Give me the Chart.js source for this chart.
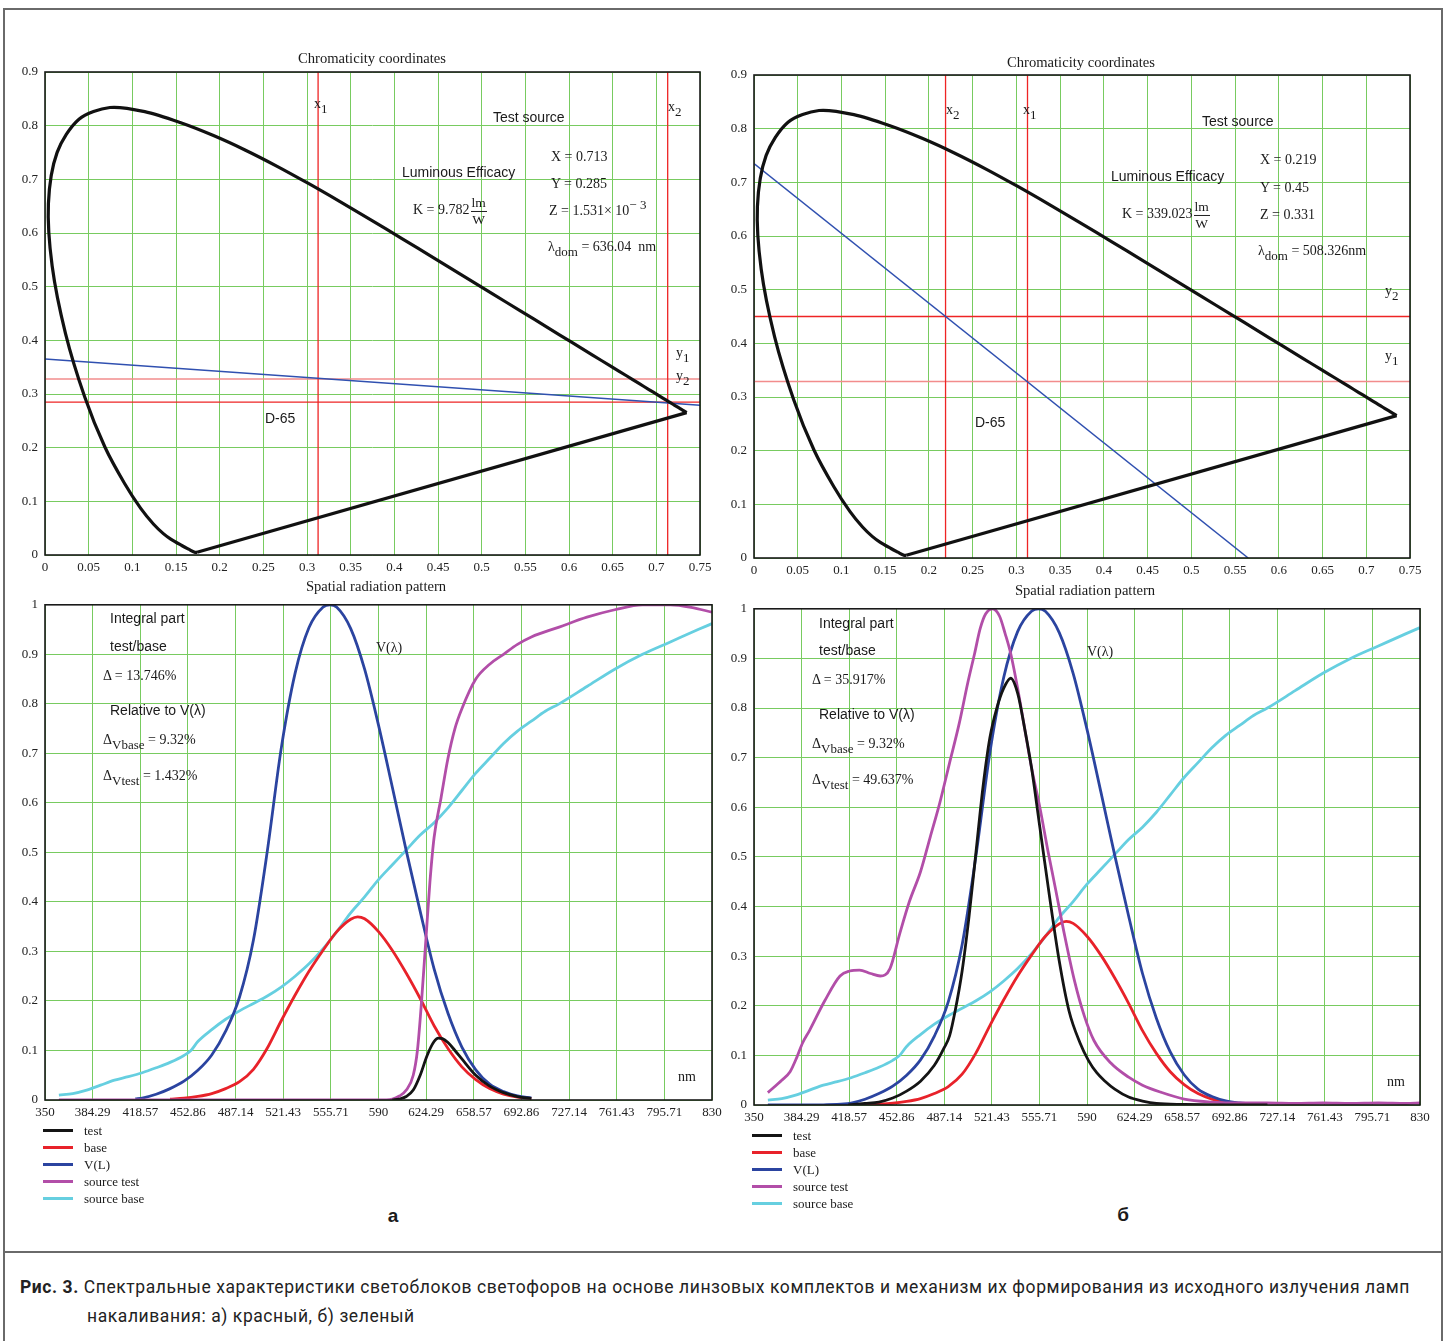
<!DOCTYPE html>
<html>
<head>
<meta charset="utf-8">
<script src="https://cdn.jsdelivr.net/npm/chart.js@4.4.1/dist/chart.umd.min.js"></script>
<style>
html,body{margin:0;padding:0;background:#fff;width:1449px;height:1341px;overflow:hidden;position:relative}
.box{position:absolute}
canvas{display:block}
.frame{position:absolute;left:3px;top:8px;width:1436px;height:1400px;border:2px solid #6a6a6a}
.hline{position:absolute;left:3px;top:1251px;width:1440px;height:0;border-top:2px solid #6a6a6a}
.t{position:absolute;white-space:nowrap;line-height:1;transform:translateY(-50%);color:#1a1a1a}
.ctr{transform:translate(-50%,-50%)}
.serif{font-family:"Liberation Serif","Times New Roman",serif;font-size:14px}
.title{font-size:14.6px}
.sans{font-family:"Liberation Sans",Arial,sans-serif;font-size:14px}
.bold{font-family:"Liberation Sans",Arial,sans-serif;font-size:19px;font-weight:bold}
.t sub{font-size:13px;vertical-align:-5px;line-height:0}
.t sup{font-size:13px;vertical-align:6px;line-height:0}
.frac{display:inline-flex;flex-direction:column;vertical-align:middle;text-align:center;font-size:13.5px;line-height:1.15;margin-left:1px}
.frac span:first-child{border-bottom:1px solid #222;padding:0 1px}
.leg{position:absolute;font-family:"Liberation Serif","Times New Roman",serif;font-size:13px;color:#1a1a1a}
.leg div{position:absolute;white-space:nowrap;line-height:1}
.leg i{position:absolute;display:block;width:30px;height:3px}
.caption{position:absolute;left:20px;top:1273px;font-family:Roboto,"Noto Sans",sans-serif;font-size:17.5px;line-height:29px;color:#222;white-space:nowrap}
.caption b{font-weight:bold}
</style>
</head>
<body>
<div class="frame"></div>
<div class="hline"></div>

<div class="box" style="left:0;top:40px"><canvas id="chromaA" width="720" height="545"></canvas></div>
<div class="box" style="left:720px;top:40px"><canvas id="chromaB" width="720" height="548"></canvas></div>
<div class="box" style="left:0;top:590px"><canvas id="specA" width="730" height="540"></canvas></div>
<div class="box" style="left:720px;top:594px"><canvas id="specB" width="735" height="541"></canvas></div>

<div class="caption"><span id="capLine"><b>Рис. 3.</b> Спектральные характеристики светоблоков светофоров на основе линзовых комплектов и механизм их формирования из исходного излучения ламп</span><br><span style="padding-left:67px">накаливания: а) красный, б) зеленый</span></div>

<script>
// spectral locus (CIE 1931 xy)
const locusX = [0.1741,0.1714,0.1644,0.1566,0.1440,0.1355,0.1241,0.1096,0.0913,0.0687,0.0454,0.0235,0.0082,0.0039,0.0139,0.0389,0.0743,0.1142,0.1547,0.1929,0.2296,0.2658,0.3016,0.3373,0.3731,0.4087,0.4441,0.4788,0.5125,0.5448,0.5752,0.6029,0.6270,0.6482,0.6658,0.6801,0.6915,0.7006,0.7079,0.7140,0.7190,0.7230,0.7260,0.7283,0.7300,0.7320,0.7347];
const locusY = [0.0050,0.0051,0.0109,0.0177,0.0297,0.0399,0.0578,0.0868,0.1327,0.2007,0.2950,0.4127,0.5384,0.6548,0.7502,0.8120,0.8338,0.8262,0.8059,0.7816,0.7543,0.7243,0.6923,0.6589,0.6245,0.5896,0.5547,0.5202,0.4866,0.4544,0.4242,0.3965,0.3725,0.3514,0.3340,0.3197,0.3083,0.2993,0.2920,0.2859,0.2809,0.2770,0.2740,0.2717,0.2700,0.2680,0.2653];

// red lamp (a): chromaticity guides
const lineA_X = [0, 0.75];
const lineA_Y = [0.365, 0.279];
const guidesA = {x1: 0.3127, x2: 0.713, y1: 0.328, y2: 0.285};
// green lamp (b)
const lineB_X = [0, 0.565];
const lineB_Y = [0.735, 0];
const guidesB = {x1: 0.3127, x2: 0.219, y1: 0.329, y2: 0.45};

const chromaXStep = 0.05;
const wlTicks = [350,384.29,418.57,452.86,487.14,521.43,555.71,590,624.29,658.57,692.86,727.14,761.43,795.71,830];

// V(lambda)
const vWl  = [360,380,400,415,420,430,440,450,460,470,480,490,500,510,520,530,540,550,555,560,570,580,590,600,610,620,630,640,650,660,670,680,690,700,710,720];
const vVal = [0,0,0.0004,0.002,0.004,0.0116,0.023,0.038,0.06,0.091,0.139,0.208,0.323,0.503,0.71,0.862,0.954,0.995,1.0,0.995,0.952,0.87,0.757,0.631,0.503,0.381,0.265,0.175,0.107,0.061,0.032,0.017,0.0082,0.0041,0.002,0.001];

// source base (incandescent lamp)
const srcBaseWl  = [360,370,380,390,400,410,420,430,440,450,455,460,470,480,490,500,510,520,530,540,550,560,570,580,590,600,610,620,630,640,650,660,670,680,690,700,710,720,740,760,780,800,820,830];
const srcBaseVal = [0.01,0.013,0.02,0.03,0.04,0.047,0.055,0.065,0.076,0.09,0.1,0.118,0.142,0.163,0.18,0.195,0.21,0.228,0.25,0.275,0.305,0.34,0.378,0.41,0.445,0.475,0.505,0.535,0.56,0.59,0.625,0.66,0.69,0.72,0.745,0.765,0.785,0.8,0.835,0.87,0.9,0.925,0.95,0.962];

// base = V x source base
const baseWl  = [418,430,440,450,460,470,480,490,500,510,520,530,540,550,560,570,575,580,590,600,610,620,630,640,650,660,670,680,690,700];
const baseVal = [0,0.0008,0.0017,0.0035,0.0072,0.013,0.023,0.037,0.062,0.105,0.16,0.212,0.26,0.302,0.34,0.365,0.37,0.366,0.34,0.302,0.256,0.205,0.15,0.104,0.067,0.041,0.023,0.012,0.006,0.003];

// (a) red lens
const srcTestA_Wl  = [360,590,600,605,610,615,618,621,624,627,630,635,640,645,650,660,670,680,690,700,720,740,760,780,800,815,830];
const srcTestA_Val = [0,0,0.002,0.008,0.02,0.05,0.1,0.2,0.32,0.44,0.53,0.61,0.69,0.75,0.79,0.85,0.88,0.9,0.92,0.935,0.955,0.975,0.99,1.0,1.0,0.995,0.985];
const testA_Wl  = [600,605,610,615,620,625,630,633,636,640,645,650,660,670,680,690,700];
const testA_Val = [0,0.002,0.007,0.02,0.05,0.09,0.118,0.125,0.124,0.116,0.1,0.083,0.05,0.028,0.015,0.007,0.003];

// (b) green lens
const srcTestB_Wl  = [360,370,376,381,385,390,401,412,419,426,434,441,448,455,462,470,477,484,491,498,504,509,513,517,522,527,531,535,540,545,550,556,562,567,574,581,588,595,607,620,630,643,660,680,700,720,740,760,780,800,820,830];
const srcTestB_Val = [0.025,0.05,0.067,0.097,0.125,0.15,0.21,0.26,0.27,0.272,0.265,0.26,0.275,0.345,0.41,0.47,0.54,0.61,0.69,0.77,0.85,0.91,0.96,0.99,1.0,0.985,0.95,0.91,0.84,0.76,0.68,0.6,0.51,0.44,0.34,0.25,0.18,0.13,0.085,0.056,0.04,0.026,0.012,0.006,0.004,0.004,0.003,0.004,0.003,0.004,0.003,0.004];
const testB_Wl  = [418,430,440,450,460,470,480,487,491,495,500,505,510,515,520,525,530,535,540,545,550,556,563,570,577,585,591,597,603,610,620,630,640,660,690,720];
const testB_Val = [0,0.003,0.006,0.014,0.028,0.048,0.08,0.115,0.14,0.19,0.27,0.38,0.51,0.64,0.74,0.8,0.84,0.86,0.83,0.76,0.68,0.56,0.42,0.29,0.19,0.125,0.09,0.065,0.048,0.032,0.016,0.008,0.003,0.001,0,0];

const GRID = '#78cb60';
const TICK_FONT = {family:'"Liberation Serif","Times New Roman",serif', size:13};
const COLORS = {test:'#141414', base:'#e8222a', v:'#2b44a0', srcTest:'#b24ea8', srcBase:'#66cfe0'};

const zip = (xs, ys) => xs.map((x, i) => ({x: x, y: ys[i]}));
const range = (xs, ys, lo, hi) => zip(xs, ys).filter(p => p.x >= lo && p.x <= hi);
const fmt = v => String(+Number(v).toFixed(3));

const framePlugin = {
  id: 'frame',
  afterDraw(chart) {
    const a = chart.chartArea, c = chart.ctx;
    c.save();
    c.strokeStyle = '#1a1a1a';
    c.lineWidth = 1.6;
    c.strokeRect(a.left, a.top, a.right - a.left, a.bottom - a.top);
    c.restore();
  }
};

function axis(min, max, step, fixed, pad) {
  return {
    type: 'linear', min: min, max: max,
    afterFit: s => { if (s.isHorizontal()) s.height = fixed; else s.width = fixed; },
    ticks: {stepSize: step, callback: fmt, font: TICK_FONT, color: '#222', padding: pad, maxRotation: 0, autoSkip: false},
    grid: {color: GRID, lineWidth: 1, drawTicks: false},
    border: {display: false}
  };
}

function chroma(id, yAxisW, padTop, padRight, line, g) {
  const red = '#ee2424', pink = '#f28c8c';
  const seg = (pts, color, w, tension) => ({data: pts, borderColor: color, borderWidth: w, showLine: true, pointRadius: 0, tension: tension || 0});
  const n = locusX.length - 1;
  new Chart(document.getElementById(id), {
    type: 'scatter',
    data: {
      datasets: [
        seg(zip(locusX, locusY), '#111', 3.2, 0.3),
        seg([{x: locusX[0], y: locusY[0]}, {x: locusX[n], y: locusY[n]}], '#111', 3.2),
        seg(zip(line[0], line[1]), '#3050b0', 1.5),
        seg([{x: g.x1, y: 0}, {x: g.x1, y: 0.9}], red, 1.3),
        seg([{x: g.x2, y: 0}, {x: g.x2, y: 0.9}], red, 1.3),
        seg([{x: 0, y: g.y1}, {x: 0.75, y: g.y1}], pink, 1.6),
        seg([{x: 0, y: g.y2}, {x: 0.75, y: g.y2}], red, 1.3)
      ]
    },
    options: {
      responsive: false, animation: false,
      layout: {padding: {top: padTop, right: padRight, left: 0, bottom: 0}},
      plugins: {legend: {display: false}, tooltip: {enabled: false}},
      scales: {
        x: axis(0, 0.75, chromaXStep, 30, 5),
        y: axis(0, 0.9, 0.1, yAxisW, 7)
      }
    },
    plugins: [framePlugin]
  });
}

function spectrum(id, yAxisW, padRight, sets) {
  const ds = sets.map(s => ({
    label: s.label, data: s.data, borderColor: s.color, borderWidth: 2.8,
    showLine: true, pointRadius: 0, cubicInterpolationMode: 'monotone', order: s.order
  }));
  const xs = axis(350, 830, 10, 30, 5);
  xs.afterBuildTicks = s => { s.ticks = wlTicks.map(v => ({value: v})); };
  new Chart(document.getElementById(id), {
    type: 'scatter',
    data: {datasets: ds},
    options: {
      responsive: false, animation: false,
      layout: {padding: {top: 10, right: padRight, left: 0, bottom: 0}},
      plugins: {legend: {display: false}, tooltip: {enabled: false}},
      scales: {x: xs, y: axis(0, 1, 0.1, yAxisW, 7)}
    },
    plugins: [framePlugin]
  });
  return ds;
}

chroma('chromaA', 45, 32, 20, [lineA_X, lineA_Y], guidesA);
chroma('chromaB', 34, 35, 30, [lineB_X, lineB_Y], guidesB);

const dsA = spectrum('specA', 45, 18, [
  {label: 'test', color: COLORS.test, order: 1, data: zip(testA_Wl, testA_Val)},
  {label: 'base', color: COLORS.base, order: 4, data: range(baseWl, baseVal, 440, 700)},
  {label: 'V(L)', color: COLORS.v, order: 3, data: range(vWl, vVal, 415, 700)},
  {label: 'source test', color: COLORS.srcTest, order: 2, data: zip(srcTestA_Wl, srcTestA_Val)},
  {label: 'source base', color: COLORS.srcBase, order: 5, data: zip(srcBaseWl, srcBaseVal)}
]);
const dsB = spectrum('specB', 34, 35, [
  {label: 'test', color: COLORS.test, order: 1, data: zip(testB_Wl, testB_Val)},
  {label: 'base', color: COLORS.base, order: 4, data: range(baseWl, baseVal, 418, 700)},
  {label: 'V(L)', color: COLORS.v, order: 3, data: range(vWl, vVal, 360, 720)},
  {label: 'source test', color: COLORS.srcTest, order: 2, data: zip(srcTestB_Wl, srcTestB_Val)},
  {label: 'source base', color: COLORS.srcBase, order: 5, data: zip(srcBaseWl, srcBaseVal)}
]);

// legends
function legend(ds, left, top) {
  const box = document.createElement('div');
  box.className = 'leg';
  box.style.left = left + 'px';
  box.style.top = top + 'px';
  ds.forEach((d, i) => {
    const y = i * 17;
    box.insertAdjacentHTML('beforeend',
      '<i style="left:0;top:' + (y - 1) + 'px;background:' + d.borderColor + '"></i>' +
      '<div style="left:41px;top:' + (y - 6) + 'px">' + d.label + '</div>');
  });
  document.body.appendChild(box);
}
legend(dsA, 43, 1130);
legend(dsB, 752, 1135);

// text labels
function label(html, x, y, cls) {
  const d = document.createElement('div');
  d.className = 't ' + cls;
  d.style.left = x + 'px';
  d.style.top = y + 'px';
  d.innerHTML = html;
  document.body.appendChild(d);
}
const K = (v) => 'K&nbsp;= ' + v + '<span class="frac"><span>lm</span><span>W</span></span>';

// (a) chromaticity
label('Chromaticity coordinates', 372, 58, 'serif title ctr');
label('x<sub>1</sub>', 314, 104, 'serif');
label('x<sub>2</sub>', 668, 107, 'serif');
label('Test source', 493, 117, 'sans');
label('Luminous Efficacy', 402, 172, 'sans');
label(K('9.782'), 413, 211, 'serif');
label('X = 0.713', 551, 157, 'serif');
label('Y = 0.285', 551, 184, 'serif');
label('Z = 1.531&times; 10<sup>&minus; 3</sup>', 549, 211, 'serif');
label('&lambda;<sub>dom</sub> = 636.04&nbsp; nm', 548, 247, 'serif');
label('D-65', 265, 418, 'sans');
label('y<sub>1</sub>', 676, 353, 'serif');
label('y<sub>2</sub>', 676, 376, 'serif');

// (b) chromaticity
label('Chromaticity coordinates', 1081, 62, 'serif title ctr');
label('x<sub>2</sub>', 946, 110, 'serif');
label('x<sub>1</sub>', 1023, 110, 'serif');
label('Test source', 1202, 121, 'sans');
label('Luminous Efficacy', 1111, 176, 'sans');
label(K('339.023'), 1122, 215, 'serif');
label('X = 0.219', 1260, 160, 'serif');
label('Y = 0.45', 1260, 188, 'serif');
label('Z = 0.331', 1260, 215, 'serif');
label('&lambda;<sub>dom</sub> = 508.326nm', 1258, 251, 'serif');
label('D-65', 975, 422, 'sans');
label('y<sub>2</sub>', 1385, 291, 'serif');
label('y<sub>1</sub>', 1385, 356, 'serif');

// (a) spectrum
label('Spatial radiation pattern', 376, 586, 'serif title ctr');
label('Integral part', 110, 618, 'sans');
label('test/base', 110, 646, 'sans');
label('&Delta; = 13.746%', 103, 676, 'serif');
label('Relative to V(&lambda;)', 110, 710, 'sans');
label('&Delta;<sub>Vbase</sub> = 9.32%', 103, 740, 'serif');
label('&Delta;<sub>Vtest</sub> = 1.432%', 103, 776, 'serif');
label('V(&lambda;)', 376, 648, 'serif');
label('nm', 678, 1077, 'serif');
label('а', 393, 1215, 'bold ctr');

// (b) spectrum
label('Spatial radiation pattern', 1085, 590, 'serif title ctr');
label('Integral part', 819, 623, 'sans');
label('test/base', 819, 650, 'sans');
label('&Delta; = 35.917%', 812, 680, 'serif');
label('Relative to V(&lambda;)', 819, 714, 'sans');
label('&Delta;<sub>Vbase</sub> = 9.32%', 812, 744, 'serif');
label('&Delta;<sub>Vtest</sub> = 49.637%', 812, 780, 'serif');
label('V(&lambda;)', 1087, 652, 'serif');
label('nm', 1387, 1082, 'serif');
label('б', 1123, 1214, 'bold ctr');

// stretch caption's first line to the figure width
const capLine = document.getElementById('capLine');
const capW = capLine.getBoundingClientRect().width;
const capChars = capLine.textContent.length;
document.querySelector('.caption').style.letterSpacing = ((1390 - capW) / capChars) + 'px';
</script>
</body>
</html>
